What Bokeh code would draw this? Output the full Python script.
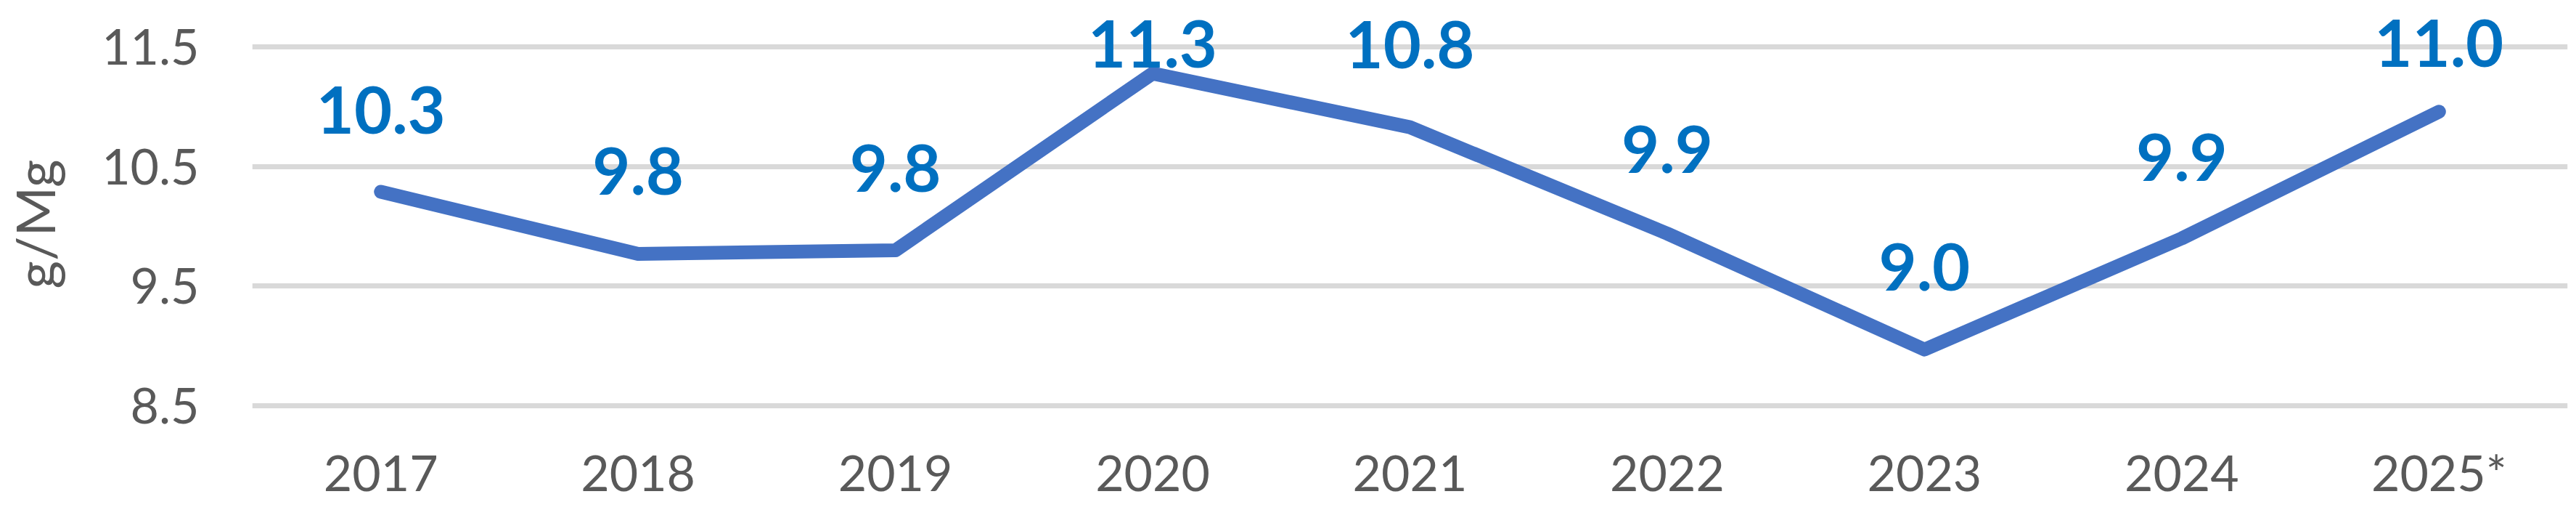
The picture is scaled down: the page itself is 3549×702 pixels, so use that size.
from bokeh.plotting import figure
from bokeh.models import FactorRange, Range1d, FixedTicker
from bokeh.core.properties import value
from bokeh.embed import file_html
from bokeh.resources import INLINE

# ---- data ----
years = ["2017", "2018", "2019", "2020", "2021", "2022", "2023", "2024", "2025*"]
values = [10.29, 9.77, 9.80, 11.28, 10.83, 9.94, 8.97, 9.90, 10.96]
labels = [f"{v:.1f}" for v in values]
y_ticks = [8.5, 9.5, 10.5, 11.5]
y_title = "g/Mg"

# ---- styling / layout ----
FONT = "Lato"
TICK_COLOR = "#595959"
LINE_COLOR = "#4472C4"
LABEL_COLOR = "#0070C0"
GRID_COLOR = "#D9D9D9"
label_offsets = [-112, -114, -113, -41, -114, -116, -114, -112, -94]

p = figure(
    width=3549, height=702,
    x_range=FactorRange(*years, range_padding=0),
    y_range=Range1d(8.147, 11.8915),
    output_backend="svg", toolbar_location=None,
    min_border_left=344, min_border_right=12,
    min_border_top=0, min_border_bottom=86,
    background_fill_color="white", border_fill_color="white",
)
p.outline_line_color = None

# grid
p.xgrid.grid_line_color = None
p.ygrid.grid_line_color = GRID_COLOR
p.ygrid.grid_line_width = 7
p.yaxis.ticker = FixedTicker(ticks=y_ticks)

# y axis
p.yaxis.axis_line_color = None
p.yaxis.major_tick_line_color = None
p.yaxis.minor_tick_line_color = None
p.yaxis.major_tick_in = 0
p.yaxis.major_tick_out = 0
p.yaxis.major_label_standoff = 73
p.yaxis.major_label_text_font = FONT
p.yaxis.major_label_text_font_size = "68px"
p.yaxis.major_label_text_color = TICK_COLOR
p.yaxis.axis_label = y_title
p.yaxis.axis_label_standoff = 45
p.yaxis.axis_label_text_font = FONT
p.yaxis.axis_label_text_font_style = "normal"
p.yaxis.axis_label_text_font_size = "74px"
p.yaxis.axis_label_text_color = TICK_COLOR

# x axis
p.xaxis.axis_line_color = None
p.xaxis.major_tick_line_color = None
p.xaxis.minor_tick_line_color = None
p.xaxis.major_tick_in = 0
p.xaxis.major_tick_out = 0
p.xaxis.major_label_standoff = -8
p.xaxis.major_label_text_font = FONT
p.xaxis.major_label_text_font_size = "68px"
p.xaxis.major_label_text_color = TICK_COLOR

# line
p.line(years, values, line_color=LINE_COLOR, line_width=19,
       line_cap="round", line_join="round")

# data labels
p.text(x=years, y=values, text=labels, y_offset=label_offsets,
       text_font=value(FONT), text_font_style="bold", text_font_size="90px",
       text_color=LABEL_COLOR, text_align="center", text_baseline="middle")

open("out.html", "w").write(file_html(p, INLINE))
